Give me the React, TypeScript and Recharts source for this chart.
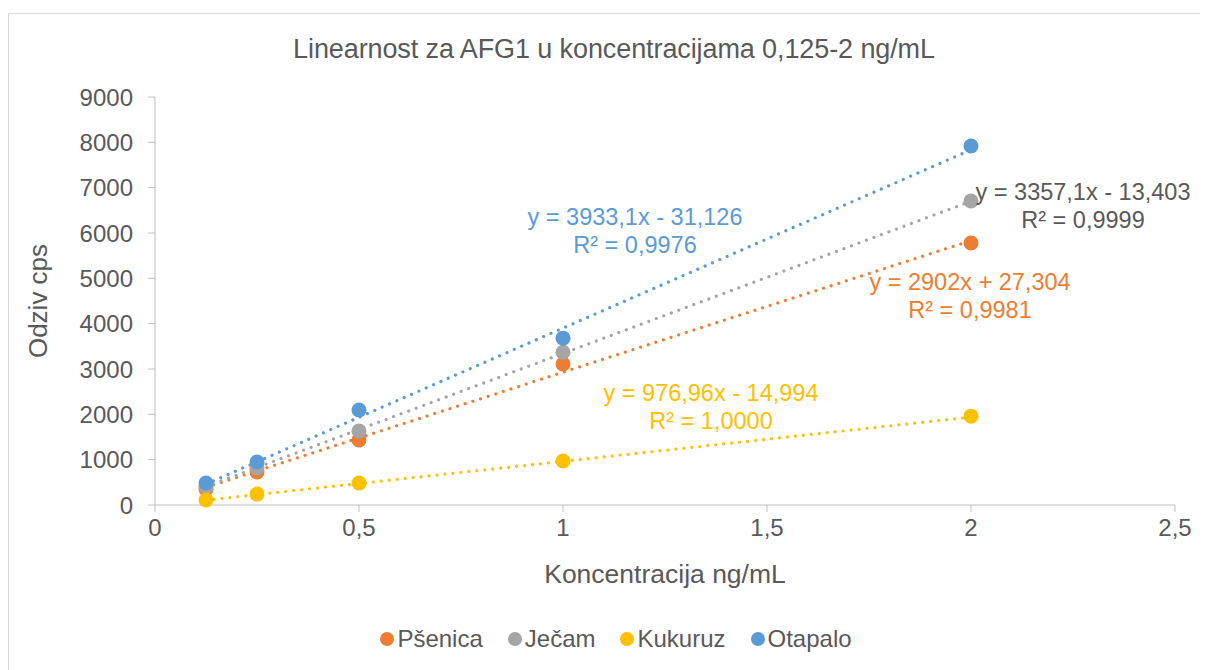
import { ScatterChart, Scatter, XAxis, YAxis, ReferenceLine } from "recharts"

const FONT = "'Liberation Sans', Arial, sans-serif"
const TEXT = "#595959"

const concentrations = [0.125, 0.25, 0.5, 1, 2]
const psenica = [350, 730, 1435, 3110, 5780]
const jecam = [410, 815, 1630, 3370, 6705]
const kukuruz = [110, 240, 485, 970, 1960]
const otapalo = [485, 950, 2095, 3680, 7920]

const xTicks = [0, 0.5, 1, 1.5, 2, 2.5]
const yTicks = [0, 1000, 2000, 3000, 4000, 5000, 6000, 7000, 8000, 9000]

const series = [
  { name: "Pšenica", values: psenica, color: "#ED7D31", slope: 2902, intercept: 27.304, eq: "y = 2902x + 27,304", r2: "R² = 0,9981", labelColor: "#ED7D31", lx: 970, ly: 282 },
  { name: "Ječam", values: jecam, color: "#A5A5A5", slope: 3357.1, intercept: -13.403, eq: "y = 3357,1x - 13,403", r2: "R² = 0,9999", labelColor: "#595959", lx: 1083, ly: 192 },
  { name: "Kukuruz", values: kukuruz, color: "#FFC000", slope: 976.96, intercept: -14.994, eq: "y = 976,96x - 14,994", r2: "R² = 1,0000", labelColor: "#FFC000", lx: 711, ly: 393 },
  { name: "Otapalo", values: otapalo, color: "#5B9BD5", slope: 3933.1, intercept: -31.126, eq: "y = 3933,1x - 31,126", r2: "R² = 0,9976", labelColor: "#5B9BD5", lx: 635, ly: 217 },
]

const toPoints = (values: number[]) => concentrations.map((x, i) => ({ x, y: values[i] }))

const fmt = (v: number) => String(v).replace(".", ",")

export default function App() {
  const xMin = concentrations[0]
  const xMax = concentrations[concentrations.length - 1]
  return (
    <div style={{ position: "relative", width: 1200, height: 662, fontFamily: FONT }}>
      <div style={{ position: "absolute", left: 0, top: 5, width: 1220, height: 700, border: "1px solid #D9D9D9", boxSizing: "border-box" }} />
      <div style={{ position: "absolute", left: 0, top: 26, width: 1212, textAlign: "center", fontSize: 27, color: TEXT, letterSpacing: -0.1 }}>
        Linearnost za AFG1 u koncentracijama 0,125-2 ng/mL
      </div>
      <div style={{ position: "absolute", left: 30, top: 293, transform: "translate(-50%, -50%) rotate(-90deg)", fontSize: 26, color: TEXT, whiteSpace: "nowrap" }}>
        Odziv cps
      </div>
      <div style={{ position: "absolute", left: 0, top: 551, width: 1314, textAlign: "center", fontSize: 26.5, color: TEXT }}>
        Koncentracija ng/mL
      </div>
      <div style={{ position: "absolute", left: 0, top: 0 }}>
        <ScatterChart width={1192} height={656} margin={{ top: 89, right: 25, bottom: 129, left: 87 }}>
          <XAxis
            type="number"
            dataKey="x"
            domain={[0, 2.5]}
            ticks={xTicks}
            tickFormatter={fmt}
            height={30}
            stroke="#BFBFBF"
            tickSize={7}
            tickMargin={7}
            tick={{ fill: TEXT, fontSize: 24, fontFamily: FONT }}
          />
          <YAxis
            type="number"
            dataKey="y"
            domain={[0, 9000]}
            ticks={yTicks}
            width={60}
            stroke="#BFBFBF"
            tickSize={7}
            tickMargin={15}
            tick={{ fill: TEXT, fontSize: 24, fontFamily: FONT }}
          />
          {series.map((s) => (
            <ReferenceLine
              key={`trend-${s.name}`}
              segment={[
                { x: xMin, y: s.slope * xMin + s.intercept },
                { x: xMax, y: s.slope * xMax + s.intercept },
              ]}
              stroke={s.color}
              strokeWidth={3.2}
              strokeDasharray="0.01 8"
              strokeLinecap="round"
              ifOverflow="visible"
            />
          ))}
          {series.map((s) => (
            <Scatter
              key={s.name}
              name={s.name}
              data={toPoints(s.values)}
              fill={s.color}
              isAnimationActive={false}
              shape={(p: any) => <circle cx={p.cx} cy={p.cy} r={7.5} fill={s.color} />}
            />
          ))}
        </ScatterChart>
      </div>
      <div style={{ position: "absolute", left: 2, top: 617, width: 1212, display: "flex", justifyContent: "center", gap: 25, fontSize: 24, color: TEXT }}>
        {series.map((s) => (
          <div key={s.name} style={{ display: "flex", alignItems: "center", gap: 3 }}>
            <span style={{ width: 14, height: 14, borderRadius: "50%", background: s.color, display: "inline-block" }} />
            <span>{s.name}</span>
          </div>
        ))}
      </div>
      {series.map((s) => (
        <div
          key={`eq-${s.name}`}
          style={{ position: "absolute", left: s.lx - 8 - 150, top: s.ly - 8 - 14, width: 300, textAlign: "center", fontSize: 23.5, lineHeight: "28px", color: s.labelColor }}
        >
          <div>{s.eq}</div>
          <div>{s.r2}</div>
        </div>
      ))}
    </div>
  )
}
